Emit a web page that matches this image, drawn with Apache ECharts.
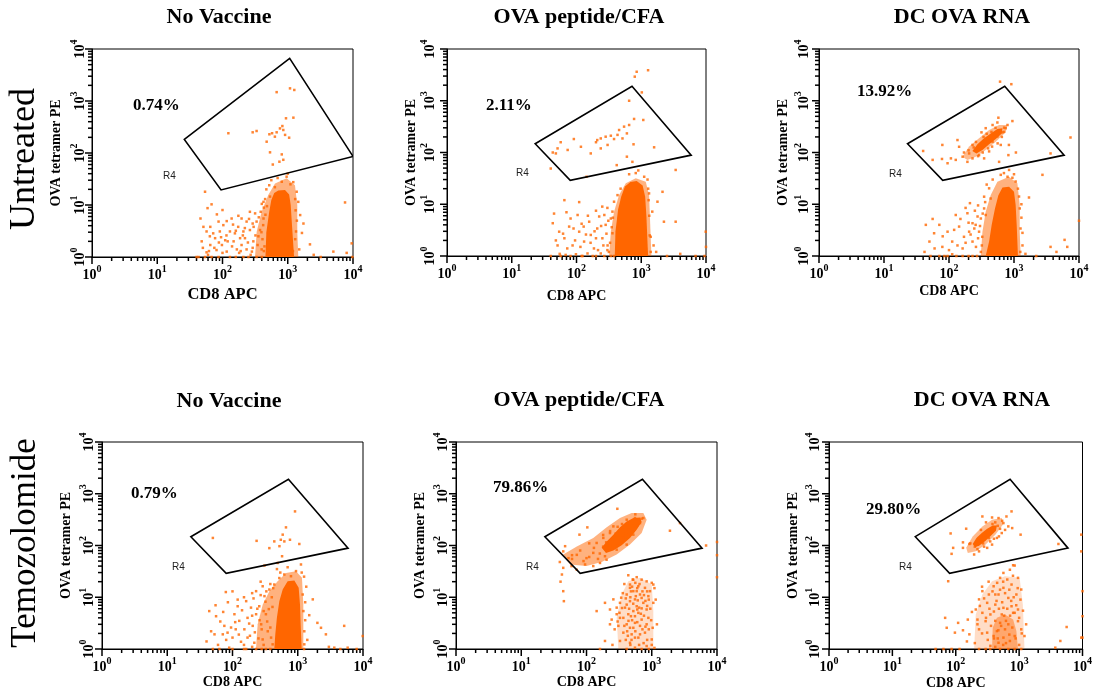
<!DOCTYPE html>
<html><head><meta charset="utf-8">
<script src="https://cdn.jsdelivr.net/npm/echarts@6/dist/echarts.min.js"></script>
<style>html,body{margin:0;padding:0;background:#fff}#c{width:1095px;height:692px}</style>
</head><body><div id="c"></div>
<script>
// ---------------- DATA (CD8 APC, OVA tetramer PE fluorescence) ----------------
const titles = ['No Vaccine','OVA peptide/CFA','DC OVA RNA','No Vaccine','OVA peptide/CFA','DC OVA RNA'];
const rowLabels = ['Untreated','Temozolomide'];
const gatePercents = ['0.74%','2.11%','13.92%','0.79%','79.86%','29.80%'];
const gateName = 'R4';
const xAxisName = 'CD8 APC';
const yAxisName = 'OVA tetramer PE';
const majorTicks = [1,10,100,1000,10000];
const minorTicks = [2,3,4,5,6,7,8,9,20,30,40,50,60,70,80,90,200,300,400,500,600,700,800,900,2000,3000,4000,5000,6000,7000,8000,9000];

// R4 gate vertices
const gateR4Wide = [[26,182],[1070,6600],[10000,86],[95,19.5]];
const gateR4 = [[23,148],[720,1900],[5900,89],[80,29]];

// Panel 1: Untreated / No Vaccine
const p1Halo = [[315,1],[334,3.07],[398,7.4],[503,15.6],[638,26],[962,32.6],[1290,24],[1400,10],[1400,3.07],[1450,1]];
const p1Core = [[455,1],[470,3],[520,7.4],[560,12.5],[620,17],[717,19],[907,19.5],[1050,16],[1110,10],[1150,5],[1250,1]];
const p1Dots = [[676,1480],[1083,1750],[1260,1630],[940,465],[1220,478],[827,330],[760,297],[855,277],[676,250],[575,240],[523,229],[910,223],[635,206],[475,165],[123,240],[290,250],[333,265],[1050,197],[535,103],[810,94],[745,68],[855,74],[590,60],
[960,35],[810,28],[635,22],[1215,27.5],[1370,18],[1450,11.5],[1550,6.4],[1340,3.1],[1740,4.4],[2190,1.75],[5000,1.27],[7550,11.2],[9550,1.83],[425,11.5],[385,7.4],[535,14.5],
[54,18],[59,8.7],[46,5.5],[51,3.8],[57,3.1],[48,2],[65,1.7],[77,2.3],[91,3.1],[103,4.1],[116,4.9],[130,3.1],[148,2],[174,3.8],[196,1.7],[221,2.3],[234,1.4],[263,3.3],[297,2],[333,4.8],[355,2.5],[316,6.9],[234,4.8],[166,1.4],[116,1.27],[81,1.36],[57,1.23],[43,1],[54,1],[68,1],[87,1],[130,1],[209,1],[333,1],[209,3.1],[138,5.5],[87,4.8],[65,3.8],[263,7.4],[398,1.4],[186,2.3],[98,1.7],[425,5.5],[196,5.5],[155,2.85],[110,2.1],[72,2.85],[282,1.27],[376,3.3],
[60,1.1],[75,1.5],[95,2.4],[120,2.0],[140,1.6],[160,3.2],[180,1.2],[205,2.6],[245,1.9],[270,1.1],[300,3.8],[320,2.6],[345,1.7],[360,5.8],[395,3.0],[410,2.2],[420,4.1],[440,1.6],[455,6.5],[480,9.5],[500,2.9],[430,8.9],[400,10.5],[450,13],[470,20],[520,24],[1300,13],[1320,7.9],[1380,5],[1300,2.2],[1200,1.3],[1500,1.4],[1650,2.9],[2500,1.1],[3200,1],[9800,1],[8000,1.2],[1100,25],[560,30],[700,33],[1000,40],[82,6.6],[68,10.3],[100,8],[175,6.2],[145,4.2],[255,5.4],[290,4.4],[220,3.6],[115,2.6],[88,1.9],[64,2.5],[50,1.5],[40,1],[62,1.3],[100,1.2],[160,1],[190,1.3],[250,1],[290,1.5],[400,1],[430,1.3]];

// Panel 2: Untreated / OVA peptide/CFA
const p2Halo = [[319,1],[339,2.95],[380,7.2],[455,15.1],[577,25.4],[823,31.7],[1175,27.3],[1320,15.1],[1370,4.6],[1435,1]];
const p2Core = [[390,1],[400,3],[440,8],[490,14],[560,22],[680,27],[850,28],[1050,23],[1150,14],[1200,6],[1275,1]];
const p2Dots = [[794,2920],[850,3630],[1275,3890],[1020,1450],[650,1000],[775,445],[650,340],[543,316],[455,272],[600,234],[430,219],[339,211],[380,182],[282,202],[237,187],[209,174],[200,158],[513,187],[302,140],[237,120],[166,96],[117,129],[91,182],[73,112],[57,158],[51,120],[43,100],[48,96],[760,144],[1580,126],[1075,425],[730,66],[600,83],[418,57],[143,34],[40,49],[65,12],[45,6.6],[3400,46],[2130,17.4],[1780,11.2],[2240,4.6],[3400,4.6],[9900,2.95],[10000,1.5],[6900,1],[1550,1.6],[1400,2.35],[1480,7.2],[1320,16.2],[1110,34],[822,40],
[43,4.3],[54,2.95],[51,1.6],[65,2.2],[77,3.7],[87,1.6],[104,6.2],[110,2.95],[131,1.9],[157,4.6],[166,2.55],[186,1.4],[209,3.4],[224,5.8],[251,2.2],[282,4],[302,1.6],[339,5.3],[359,2.75],[316,1.2],[237,1.12],[148,1.12],[98,1.08],[68,1.05],[40,1],[57,1],[81,1],[124,1],[178,1],[269,1],[380,1],[129,3.7],[81,5.3],[200,2.2],[269,6.2],[359,7.2],[380,11.2],
[55,1.1],[72,1.4],[95,2.0],[115,1.5],[140,2.6],[165,1.8],[190,3.0],[215,1.3],[240,3.8],[260,1.6],[290,2.7],[310,4.8],[330,1.8],[350,3.6],[365,5.5],[300,8.5],[250,9],[200,7.5],[150,6],[120,4.2],[90,3.4],[62,2.7],[48,2],[70,7],[110,11],[1300,12],[1330,6],[1350,2.5],[1400,1.2],[1280,20],[480,20],[430,15],[1700,1.2],[2500,1],[4000,1.1],[9500,1],[1250,30],[650,38],[900,45],[120,1],[200,1],[300,1.3],[340,1]];

// Panel 3: Untreated / DC OVA RNA
const p3Halo = [[308,1],[327,2.95],[367,7.2],[439,15.1],[555,27.3],[839,34.1],[1127,25.4],[1224,9.7],[1224,2.95],[1268,1]];
const p3Core = [[367,1],[414,1.9],[454,4.0],[510,8.3],[575,15],[665,21],[840,21.9],[1000,17.5],[1060,9.7],[1100,4.0],[1150,1]];
const p3GateHalo = [[161,83],[204,130],[290,188],[414,272],[589,339],[791,339],[746,245],[524,162],[367,112],[258,83],[192,72]];
const p3GateCore = [[229,107],[274,144],[346,188],[439,234],[555,284],[663,293],[648,234],[524,182],[414,144],[327,112],[264,96]];
const p3Dots = [[610,2340],[910,2090],[575,470],[795,340],[945,405],[705,302],[660,245],[555,204],[468,162],[625,140],[835,140],[1070,100],[820,89],[590,66],[414,105],[230,77],[204,96],[192,66],[162,83],[143,129],[135,174],[127,72],[107,77],[95,62],[79,140],[78,75],[56,72],[40,107],[230,140],[290,89],[347,77],[316,245],[367,295],[468,340],[555,380],[745,295],[3650,96],[7400,195],[2740,37],
[625,37],[795,34],[945,32.5],[840,46],[1060,27.5],[1195,14.1],[1225,8.3],[1260,3.4],[1700,13.5],[1350,1.6],[3650,1.5],[6000,2.05],[6600,1.5],[10000,4.8],[414,20.3],[437,12.9],[347,8.3],[309,5.3],[367,6.2],[290,2.95],[257,4.0],[230,1.9],[204,2.95],[170,2.35],[143,3.7],[127,6.2],[112,1.9],[95,2.95],[79,1.5],[71,4.0],[59,2.75],[56,5.2],[50,1.9],[44,4.0],[42,1.2],[52,1],[71,1],[95,1],[112,1.08],[162,1],[230,1],[309,1.2],[325,2.35],[275,5.8],[192,6.7],[230,4.3],[162,1.4],[347,14],
[60,1.4],[80,2.4],[100,1.3],[120,3.2],[135,1.6],[150,5.2],[180,1.8],[200,4.4],[215,2.6],[245,3.4],[260,1.5],[280,2.2],[300,3.8],[330,6.6],[320,1.6],[280,9.5],[250,7.5],[210,10.5],[180,8.5],[360,11],[1300,10],[1300,5.5],[1350,2.8],[1250,1.2],[1500,1.1],[2200,1],[4500,1.2],[1150,20],[380,24],[470,30],[700,40],[1000,38],[85,1],[130,1],[200,1],[270,1],
[200,110],[240,125],[260,160],[300,130],[340,200],[360,160],[380,230],[420,190],[450,250],[500,220],[520,300],[600,260],[650,200],[700,250],[460,130],[400,120],[330,100],[280,85],[560,150],[170,100]];

// Panel 4: Temozolomide / No Vaccine
const p4Halo = [[229,1],[243,3.0],[290,7.2],[367,13.1],[492,20.4],[661,29.5],[940,31.7],[1160,23.7],[1218,7.2],[1218,1]];
const p4Core = [[437,1],[453,1.92],[479,4.0],[522,8.4],[588,14.1],[700,20.4],[887,21],[1033,15.2],[1083,7.2],[1108,3.0],[1148,1]];
const p4Dots = [[908,456],[660,224],[588,162],[550,129],[623,120],[760,129],[50,140],[234,123],[437,120],[367,89],[524,97],[575,62],[1057,107],[309,41],[493,46],
[79,12.6],[1120,43],[940,32],[787,25.5],[622,27.5],[522,23.5],[437,17.6],[367,14.1],[290,16.3],[230,13.1],[309,10.5],[162,8.4],[192,6.3],[257,6.7],[325,4.7],[230,4.7],[170,4.0],[127,3.5],[112,2.4],[152,2.4],[204,2.8],[275,3.0],[347,2.2],[390,1.66],[290,1.53],[216,1.32],[170,1.66],[135,1.38],[100,1.66],[84,2.07],[75,2.8],[71,1.92],[53,1.92],[47,2.2],[44,5.4],[56,4.3],[72,5.2],[120,6.7],[107,4.7],[50,1],[63,1],[89,1.06],[100,1],[162,1],[230,1],[325,1],[412,1.23],[1190,11.3],[1220,5.4],[1260,2.2],[1700,9.1],[2270,2.57],[2700,1.92],[5150,2.8],[3630,1.06],[5820,1.06],[9900,1.78],[1260,1.23],
[60,1.2],[80,1.5],[95,2.6],[110,3.3],[125,1.9],[140,5.6],[150,1.2],[180,3.1],[185,1.8],[200,4.4],[210,9.5],[220,2.1],[240,6],[250,1.6],[260,3.6],[270,11],[280,2.4],[300,5.4],[300,1.2],[320,8.2],[340,3.4],[360,5.9],[380,2.6],[400,10],[410,6.5],[420,15],[380,18],[330,13],[270,20],[200,12],[150,10],[120,9],[100,13],[85,8],[65,3.4],[55,7],[40,1.4],[150,1],[200,1.1],[280,1],[380,1],[1250,1],[1300,3.6],[1300,8],[1350,16],[1250,25],[1150,30],[1400,1.5],[1500,4.5],[2000,3.2],[3000,1.1],[4500,1],[8000,1],[540,30],[480,35],[700,38]];

// Panel 5: Temozolomide / OVA peptide/CFA
const p5Halo = [[44,67],[71,96],[127,139],[204,224],[326,339],[492,423],[743,423],[836,315],[700,174],[464,104],[290,67],[171,48],[100,40],[56,43]];
const p5Core = [[171,90],[204,120],[258,162],[326,224],[413,292],[522,339],[661,349],[700,284],[587,202],[464,139],[346,101],[258,80],[199,72]];
const p5LowHalo = [[308,1],[290,4.0],[346,11.3],[437,20.4],[661,23.7],[1000,17.6],[1057,5.4],[1057,1]];
const p5Dots = [[297,512],[1900,193],[2710,271],[6800,100],[10000,117],[10000,65],[10000,24.4],[103,224],[78,162],[47,97],[44,77],[53,57],[39,48],[44,37],[42,27.5],[40,20],[44,13.1],[45,8.4],[59,40],[71,34],[95,43],[127,40],[161,46],[203,53],[100,57],[71,66],[127,72],[192,62],[290,83],[413,104],[661,271],[743,339],[553,339],[413,315],[258,234],[229,174],[181,140],[143,112],[367,140],[522,162],
[437,26.6],[588,24.4],[700,21.9],[1000,19],[464,17.6],[623,16.3],[787,15.2],[1057,17.6],[522,13.1],[413,11.3],[661,11.3],[887,10.5],[553,9.1],[464,8.4],[743,7.8],[326,7.8],[290,6.3],[389,6.3],[588,6.7],[835,5.8],[229,5.8],[243,3.7],[326,4.0],[437,4.7],[553,4.3],[700,3.7],[887,4.0],[308,2.8],[413,3.0],[522,2.57],[661,2.8],[367,2.07],[492,1.92],[623,1.66],[787,2.07],[1000,1.53],[326,1.43],[464,1.32],[553,1.06],[413,1],[700,1],[835,1.14],[161,1],[143,5.4],[192,1.43],[1057,7.8],[1033,2.57],[464,15.2],[588,13.1],[700,9.7],[522,5.4],[623,5.0],[553,3.2],[464,2.57],[661,1.92],[553,1.66],[835,3.0],[367,4.0],[290,4.7],[413,7.2],[258,9.1],[192,7.8],[229,3.0],[940,13.1],[835,20.3],[522,21.9],
[250,1.2],[270,2.4],[300,3.4],[320,5],[340,9.8],[360,12],[380,18],[400,1.5],[420,2.2],[440,3.5],[450,6],[470,10],[480,13],[500,16],[510,22],[560,19],[600,15],[650,18],[720,13],[760,11],[800,8.5],[850,13],[900,9],[950,6],[980,3.6],[900,2.4],[850,1.5],[750,1.3],[720,2.4],[680,4.8],[640,6.3],[610,8.7],[570,10.5],[520,7.5],[480,4.3],[430,1.8],[380,2.8],[350,6.2],[600,3.3],[560,2.2],[500,3.6],[470,1.2],[640,1.2],[900,1],[1000,1.2],[1100,1.05],[1200,3],[1150,9],[1100,15],[400,9.5],[600,5.8],[700,6.1],[760,4.4],[800,2.7],[850,6.8],[490,1.5],
[60,55],[90,50],[110,60],[150,55],[160,70],[130,90],[180,95],[210,80],[230,100],[250,130],[200,115],[300,110],[330,150],[280,170],[360,200],[400,170],[450,200],[520,240],[600,250],[640,320],[700,330],[560,400],[420,270],[350,260],[300,230],[230,190],[180,160],[110,110],[80,80],[60,65]];

// Panel 6: Temozolomide / DC OVA RNA
const p6GateHalo = [[146,90],[185,150],[263,234],[374,315],[532,339],[565,259],[421,162],[296,104],[207,77],[155,72]];
const p6GateCore = [[185,107],[212,139],[257,174],[313,211],[383,244],[446,244],[431,193],[365,157],[296,124],[239,101],[203,92]];
const p6LowHalo = [[195,1],[207,4.65],[263,11.3],[374,20.4],[599,25.5],[1018,23.7],[1145,7.2],[1215,1]];
const p6LowCore = [[374,1],[383,2.57],[446,4.0],[599,4.65],[804,3.7],[905,2.22],[960,1]];
const p6Dots = [[759,456],[631,364],[473,339],[374,348],[263,364],[565,271],[675,234],[777,217],[532,174],[446,140],[1055,162],[83,171],[146,211],[86,69],[91,90],[130,90],[164,107],[195,67],[233,77],[313,90],[374,104],[333,140],[233,140],[4170,107],[9550,77],[9550,162],[10000,13.1],[9550,1.66],[76,20.4],[851,41],[715,34],
[804,41.5],[565,29.5],[501,23.7],[960,23.7],[396,16.3],[565,15.2],[759,17.6],[263,13.1],[333,11.3],[473,11.3],[675,9.7],[905,11.3],[1080,14.1],[233,9.1],[313,7.8],[421,7.2],[565,6.25],[759,6.7],[960,5.8],[207,5.8],[263,5.0],[352,4.65],[220,3.7],[296,3.45],[501,3.2],[675,3.0],[960,3.45],[1080,2.4],[233,2.4],[313,2.07],[396,1.78],[565,1.66],[715,1.43],[851,1.78],[473,1.32],[352,1.15],[233,1],[296,1],[675,1],[1080,1],[164,1.92],[155,3.7],[109,3.2],[68,4.0],[72,2.57],[97,2.07],[115,1],[86,1],[64,1],[48,1],[3720,1.06],[5620,2.66],[10000,4.3],[10000,1.66],[4470,1.43],[1290,3.0],[1215,1.78],[446,2.22],[599,2.4],[532,4.65],[804,5.0],[421,11.3],
[200,1.3],[220,3],[240,6.8],[260,2],[280,9.5],[300,4],[320,1.5],[340,6],[360,2.8],[380,13],[400,5.3],[420,3.5],[440,8.5],[460,1.6],[480,6],[500,14],[520,2.8],[540,8],[560,20],[580,4.4],[600,12],[620,1.3],[650,6],[700,14],[720,4.4],[750,8.5],[780,2.6],[820,10],[850,5],[880,1.6],[900,7],[950,15],[1000,4],[1050,9],[1100,2],[1150,5.5],[1000,1.2],[850,1],[350,1],[420,1.1],[500,1],[150,1.4],[130,2.3],[180,5.2],[260,16],[330,20],[450,19],[650,22],[800,26],[400,1.6],[470,2.3],[620,3.5],[700,1.9],[560,1.2],
[170,110],[200,95],[230,120],[250,150],[270,110],[290,160],[320,180],[350,190],[380,260],[420,280],[460,240],[500,210],[540,300],[600,200],[480,150],[400,135],[350,120],[280,95],[220,85],[130,115],[300,280],[250,200]];

// ---------------- STYLE / LAYOUT ----------------
const SERIF = '"Liberation Serif","Times New Roman",serif';
const SANS = '"Liberation Sans",Arial,sans-serif';
const ORANGE = '#ff6600';
// density layers per panel: [vertices, opacity]
const panelLayers = [
  [[p1Halo,0.5],[p1Core,1]],
  [[p2Halo,0.5],[p2Core,1]],
  [[p3Halo,0.5],[p3GateHalo,0.45],[p3Core,1],[p3GateCore,1]],
  [[p4Halo,0.5],[p4Core,1]],
  [[p5Halo,0.5],[p5LowHalo,0.22],[p5Core,1]],
  [[p6GateHalo,0.45],[p6LowHalo,0.22],[p6LowCore,0.45],[p6GateCore,1]]
];
const panelGates = [gateR4Wide, gateR4, gateR4, gateR4, gateR4, gateR4];
const panelDots = [p1Dots,p2Dots,p3Dots,p4Dots,p5Dots,p6Dots];
const layout = [
  {l:92, t:49, w:261,h:208, title:[219,17], pct:[133,106], r4:[163,176], xGap:29, xNameSize:16.5, yLabM:4},
  {l:447,t:49, w:259,h:207, title:[579,17], pct:[486,106], r4:[516,173], xGap:33, xNameSize:14, yLabM:9},
  {l:819,t:49, w:260,h:207, title:[962,17], pct:[857,92], r4:[889,174], xGap:28, xNameSize:14, yLabM:7},
  {l:102,t:442,w:261,h:207, title:[229,401], pct:[131,494], r4:[172,567], xGap:26, xNameSize:14, yLabM:5},
  {l:456,t:442,w:261,h:207, title:[579,400], pct:[493,488], r4:[526,567], xGap:26, xNameSize:14, yLabM:5},
  {l:829,t:442,w:261,h:207, title:[982,400], pct:[866,510], r4:[899,567], xGap:27, xNameSize:14, yLabM:6}
];
const rowLabelPos = [{x:25,y:159,size:36},{x:26,y:543,size:35}];
const MAJOR_LEN = 7, MINOR_LEN = 4, TICK_W = 1.5;

const supFmt = v => '{b|10}{s|' + Math.round(Math.log10(v)) + '}';
const rich = {
  b:{fontFamily:SERIF,fontWeight:'bold',fontSize:14,color:'#000',lineHeight:18,verticalAlign:'bottom'},
  s:{fontFamily:SERIF,fontWeight:'bold',fontSize:10,color:'#000',lineHeight:10,verticalAlign:'top'}
};

const grids=[], xAxes=[], yAxes=[], series=[], graphics=[];
layout.forEach((p,i)=>{
  grids.push({left:p.l,top:p.t,width:p.w,height:p.h,show:true,borderColor:'#000',borderWidth:1,backgroundColor:'transparent'});
  xAxes.push({gridIndex:i,type:'log',logBase:10,min:1,max:10000,splitNumber:4,position:'bottom',
    name:xAxisName,nameLocation:'middle',nameGap:p.xGap,
    nameTextStyle:{fontFamily:SERIF,fontWeight:'bold',fontSize:p.xNameSize,color:'#000'},
    axisLine:{show:true,lineStyle:{color:'#000',width:1}},
    axisTick:{show:false},
    axisLabel:{show:true,customValues:majorTicks,formatter:supFmt,rich:rich,margin:7,color:'#000'},
    splitLine:{show:false}});
  yAxes.push({gridIndex:i,type:'log',logBase:10,min:1,max:10000,splitNumber:4,position:'left',
    name:yAxisName,nameLocation:'middle',nameGap:29,nameRotate:90,
    nameTextStyle:{fontFamily:SERIF,fontWeight:'bold',fontSize:14,color:'#000'},
    axisLine:{show:true,lineStyle:{color:'#000',width:1}},
    axisTick:{show:false},
    axisLabel:{show:true,customValues:majorTicks,formatter:supFmt,rich:rich,margin:p.yLabM+1,rotate:90,color:'#000'},
    splitLine:{show:false}});

  const poly = (pts, style, z) => ({type:'custom',xAxisIndex:i,yAxisIndex:i,data:pts,encode:{x:0,y:1},
    silent:true,animation:false,z:z,clip:true,
    renderItem:(params,api)=>{ if(params.dataIndex!==0) return null;
      return {type:'polygon',shape:{points:pts.map(pt=>api.coord(pt))},style:style}; }});
  panelLayers[i].forEach(([pts,op])=>series.push(poly(pts,{fill:ORANGE,opacity:op,stroke:null},op<1?1:2)));
  series.push({type:'scatter',xAxisIndex:i,yAxisIndex:i,data:panelDots[i],symbol:'rect',symbolSize:2.5,
    itemStyle:{color:ORANGE},silent:true,animation:false,z:3});
  series.push(poly(panelGates[i],{fill:'none',stroke:'#000',lineWidth:1.6},4));

  graphics.push({type:'text',x:p.title[0],y:p.title[1],style:{text:titles[i],font:'bold 22px '+SERIF,fill:'#000',align:'center',verticalAlign:'middle'}});
  graphics.push({type:'text',x:p.pct[0],y:p.pct[1],style:{text:gatePercents[i],font:'bold 17px '+SERIF,fill:'#000',align:'left',verticalAlign:'middle'}});
  graphics.push({type:'text',x:p.r4[0],y:p.r4[1],style:{text:gateName,font:'10px '+SANS,fill:'#222',align:'left',verticalAlign:'middle'}});
});
rowLabels.forEach((t,k)=>{
  const r=rowLabelPos[k];
  graphics.push({type:'text',x:r.x,y:r.y,rotation:Math.PI/2,style:{text:t,font:r.size+'px '+SERIF,fill:'#000',align:'center',verticalAlign:'middle'}});
});

const chart = echarts.init(document.getElementById('c'),null,{renderer:'canvas'});
chart.setOption({animation:false,backgroundColor:'#fff',grid:grids,xAxis:xAxes,yAxis:yAxes,series:series});

// log-decade tick marks (majors at 10^n, minors at 2..9 x 10^n), positioned through each grid's own log axes
layout.forEach((p,i)=>{
  const add=(v,len)=>{
    const bx=chart.convertToPixel({xAxisIndex:i,yAxisIndex:i},[v,1]);
    const ly=chart.convertToPixel({xAxisIndex:i,yAxisIndex:i},[1,v]);
    if(!bx||!ly) return;
    graphics.push({type:'rect',shape:{x:bx[0]-TICK_W/2,y:bx[1],width:TICK_W,height:len},style:{fill:'#000'}});
    graphics.push({type:'rect',shape:{x:ly[0]-len,y:ly[1]-TICK_W/2,width:len,height:TICK_W},style:{fill:'#000'}});
  };
  majorTicks.forEach(v=>add(v,MAJOR_LEN));
  minorTicks.forEach(v=>add(v,MINOR_LEN));
});
chart.setOption({graphic:{elements:graphics}});
</script>
</body></html>
